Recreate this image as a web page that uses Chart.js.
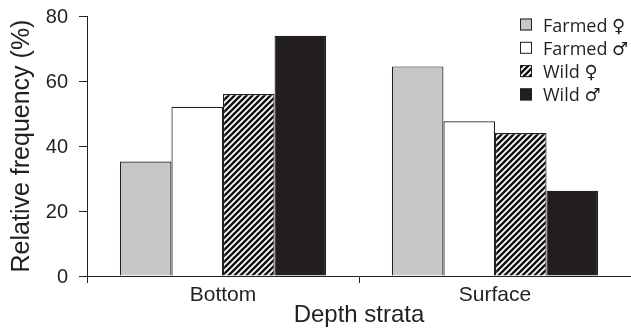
<!DOCTYPE html>
<html>
<head>
<meta charset="utf-8">
<script src="https://cdn.jsdelivr.net/npm/chart.js@4.4.1/dist/chart.umd.min.js"></script>
<style>
  html, body { margin: 0; padding: 0; background: #fff; }
  #wrap { width: 631px; height: 330px; position: relative; }
</style>
</head>
<body>
<div id="wrap"><canvas id="c"></canvas></div>
<script>
// ---- data ----
const categories = ['Bottom', 'Surface'];
const seriesLabels = ['Farmed \u2640', 'Farmed \u2642', 'Wild \u2640', 'Wild \u2642'];
const farmedFemale = [35.2, 64.5];
const farmedMale = [52.1, 47.6];
const wildFemale = [56.0, 44.0];
const wildMale = [73.9, 26.2];
const yTickValues = [0, 20, 40, 60, 80];
const yTitle = 'Relative frequency (%)';
const xTitle = 'Depth strata';

// ---- styles ----
const INK = '#231f20';
const GRAY = '#c6c7c9';

function makeHatch() {
  const s = 6;
  const c = document.createElement('canvas');
  c.width = s; c.height = s;
  const g = c.getContext('2d');
  g.fillStyle = '#ffffff';
  g.fillRect(0, 0, s, s);
  g.strokeStyle = '#111111';
  g.lineWidth = 2.4;
  g.beginPath();
  g.moveTo(-1, s + 1); g.lineTo(s + 1, -1);
  g.moveTo(-1, 1); g.lineTo(1, -1);
  g.moveTo(s - 1, s + 1); g.lineTo(s + 1, s - 1);
  g.stroke();
  return document.getElementById('c').getContext('2d').createPattern(c, 'repeat');
}
const hatch = makeHatch();

const fills = [GRAY, '#ffffff', hatch, INK];
const seriesValues = [farmedFemale, farmedMale, wildFemale, wildMale];

const datasets = seriesValues.map((vals, i) => ({
  label: seriesLabels[i],
  data: vals,
  backgroundColor: fills[i],
  borderColor: INK,
  borderWidth: 1.2,
  borderSkipped: 'bottom',
  categoryPercentage: 0.758,
  barPercentage: 1.0
}));

const legendPlugin = {
  id: 'customLegend',
  afterDraw(chart) {
    const ctx = chart.ctx;
    ctx.save();
    ctx.font = '18px "Open Sans", "DejaVu Sans", sans-serif';
    ctx.textBaseline = 'alphabetic';
    ctx.textAlign = 'left';
    chart.data.datasets.forEach((ds, i) => {
      const bx = 520, by = 18.5 + i * 23.3, bs = 12;
      ctx.fillStyle = ds.backgroundColor;
      ctx.fillRect(bx, by, bs, bs);
      ctx.strokeStyle = INK;
      ctx.lineWidth = 1;
      ctx.strokeRect(bx + 0.5, by + 0.5, bs - 1, bs - 1);
      ctx.fillStyle = INK;
      ctx.fillText(ds.label, 543, by + bs + 1);
    });
    ctx.restore();
  }
};

new Chart(document.getElementById('c'), {
  type: 'bar',
  data: { labels: categories, datasets },
  options: {
    responsive: true,
    maintainAspectRatio: false,
    animation: false,
    layout: { padding: { top: 16, right: -3, left: 0, bottom: 0 } },
    plugins: { legend: { display: false }, tooltip: { enabled: false } },
    scales: {
      x: {
        offset: true,
        afterFit(s) { s.height = 54; s.paddingLeft = 0; s.paddingRight = 0; },
        grid: { display: true, drawOnChartArea: false, offset: true, tickLength: 7, color: INK, tickWidth: 1 },
        border: { display: true, color: INK, width: 1 },
        ticks: { color: INK, font: { family: '"Liberation Sans", Arial, sans-serif', size: 21 }, padding: 0 },
        title: { display: true, text: xTitle, color: INK, font: { family: '"Liberation Sans", Arial, sans-serif', size: 24 }, padding: { top: 0, bottom: 0 } }
      },
      y: {
        min: 0, max: 80,
        afterFit(s) { s.width = 87; s.paddingTop = 0; s.paddingBottom = 0; },
        afterBuildTicks(s) { s.ticks = yTickValues.map(v => ({ value: v })); },
        grid: { display: true, drawOnChartArea: false, tickLength: 8, color: INK },
        border: { display: true, color: INK, width: 1 },
        ticks: { color: INK, font: { family: '"Liberation Sans", Arial, sans-serif', size: 20 }, padding: 11, labelOffset: 1 },
        title: { display: true, text: yTitle, color: INK, font: { family: '"Liberation Sans", Arial, sans-serif', size: 25 }, padding: { top: 7, bottom: 0 } }
      }
    }
  },
  plugins: [legendPlugin]
});
</script>
</body>
</html>
